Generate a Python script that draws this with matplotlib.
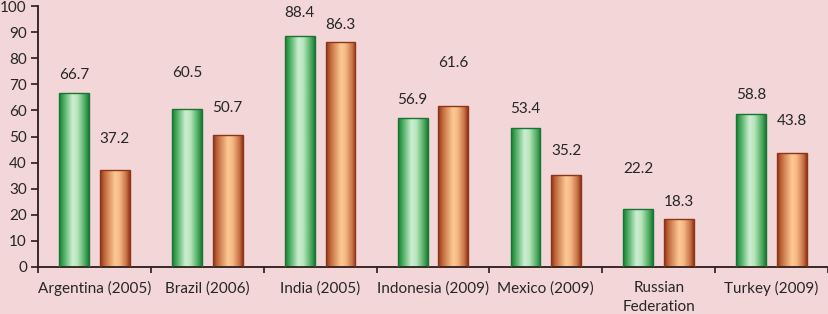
import matplotlib
matplotlib.use("Agg")
import matplotlib.pyplot as plt
import numpy as np
from matplotlib.colors import LinearSegmentedColormap

# ---- data ----
categories = ["Argentina (2005)", "Brazil (2006)", "India (2005)", "Indonesia (2009)",
              "Mexico (2009)", "Russian\nFederation", "Turkey (2009)"]
series_green = [66.7, 60.5, 88.4, 56.9, 53.4, 22.2, 58.8]
series_orange = [37.2, 50.7, 86.3, 61.6, 35.2, 18.3, 43.8]
# heights at which the data labels sit (manually placed in the original)
label_y_green = [73.6, 74.3, 97.3, 64.0, 60.5, 37.5, 65.9]
label_y_orange = [49.0, 60.9, 92.7, 78.2, 44.4, 24.9, 55.9]
yticks = list(range(0, 101, 10))

BG = "#F2D6D8"
TXT = "#262626"
AX = "#2B1B1B"
FS = 11

plt.rcParams['font.family'] = ['Lato', 'DejaVu Sans']

fig = plt.figure(figsize=(8.29, 3.14), dpi=100, facecolor=BG)
ax = fig.add_axes([38 / 829, 47 / 314, 790 / 829, 261 / 314])
ax.set_facecolor(BG)

green_cmap = LinearSegmentedColormap.from_list(
    "g", [(0, "#1C7A36"), (0.14, "#40A858"), (0.45, "#CDEFD0"), (0.62, "#B7E4BC"),
          (0.86, "#4FAE62"), (1, "#1B7A35")])
orange_cmap = LinearSegmentedColormap.from_list(
    "o", [(0, "#8C3016"), (0.14, "#BF6638"), (0.5, "#FDC996"), (0.66, "#F6B885"),
          (0.88, "#C77347"), (1, "#933417")])

x = np.arange(len(categories))
w = 0.265
off = 0.18
grad = np.linspace(0, 1, 256).reshape(1, -1)


def gradient_bars(xpos, vals, cmap, edge):
    bars = ax.bar(xpos, vals, width=w, facecolor="none", edgecolor=edge,
                  linewidth=1.0, zorder=3)
    for b in bars:
        x0, y0 = b.get_x(), b.get_y()
        im = ax.imshow(grad, cmap=cmap, aspect="auto",
                       extent=(x0, x0 + b.get_width(), y0, y0 + b.get_height()),
                       zorder=2, interpolation="bicubic")
        im.set_clip_path(b)
    return bars


gradient_bars(x - off, series_green, green_cmap, "#1B7434")
gradient_bars(x + off, series_orange, orange_cmap, "#8E3519")

for xi, ly, v in zip(x - off, label_y_green, series_green):
    ax.text(xi, ly, f"{v:.1f}", ha="center", va="center", fontsize=FS, color=TXT)
for xi, ly, v in zip(x + off, label_y_orange, series_orange):
    ax.text(xi, ly, f"{v:.1f}", ha="center", va="center", fontsize=FS, color=TXT)

ax.set_xlim(-0.5, len(categories) - 0.5)
ax.set_ylim(0, 100)
ax.set_yticks(yticks)
ax.set_yticklabels([str(t) for t in yticks], fontsize=FS, color=TXT)
ax.set_xticks(x)
ax.set_xticklabels(categories, fontsize=FS, color=TXT, linespacing=1.45)
ax.tick_params(axis="x", which="major", length=0, pad=10)
ax.set_xticks(np.arange(-0.5, len(categories)), minor=True)
ax.tick_params(axis="x", which="minor", length=4, width=1.2, color=AX, direction="out")
ax.tick_params(axis="y", length=5, width=1.2, color=AX, direction="out", pad=3)

for s in ["top", "right"]:
    ax.spines[s].set_visible(False)
for s in ["left", "bottom"]:
    ax.spines[s].set_color(AX)
    ax.spines[s].set_linewidth(1.3)

fig.savefig("out.png", dpi=100, facecolor=BG)
